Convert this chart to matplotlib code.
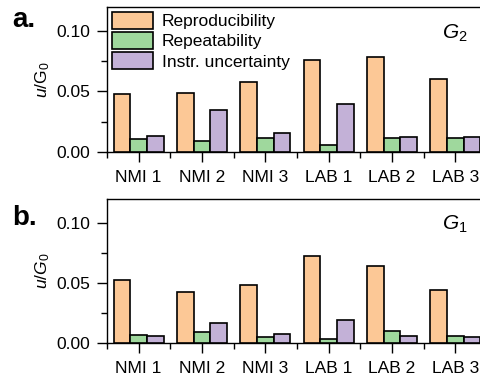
import matplotlib
matplotlib.use("Agg")
import matplotlib.pyplot as plt
import numpy as np
from matplotlib.ticker import MultipleLocator, FixedLocator

plt.rcParams['font.family'] = ['Liberation Sans', 'DejaVu Sans']
plt.rcParams['mathtext.fontset'] = 'custom'
plt.rcParams['mathtext.rm'] = 'Liberation Sans'
plt.rcParams['mathtext.it'] = 'Liberation Sans:italic'

categories = ["NMI 1", "NMI 2", "NMI 3", "LAB 1", "LAB 2", "LAB 3"]
series_names = ["Reproducibility", "Repeatability", "Instr. uncertainty"]

g2_repro = [0.0478, 0.0487, 0.0575, 0.0758, 0.0787, 0.0603]
g2_repeat = [0.0108, 0.0087, 0.0117, 0.0058, 0.0112, 0.0112]
g2_instr = [0.0128, 0.0347, 0.0153, 0.0397, 0.0125, 0.0125]

g1_repro = [0.0528, 0.0430, 0.0486, 0.0730, 0.0642, 0.0447]
g1_repeat = [0.0069, 0.0094, 0.0056, 0.0036, 0.0100, 0.0064]
g1_instr = [0.0060, 0.0172, 0.0075, 0.0194, 0.0061, 0.0053]

colors = ['#FCC896', '#9FD89D', '#C3B1D7']

W, H = 481, 381
fig = plt.figure(figsize=(W/100, H/100), dpi=100)

def axrect(l, t, r, b):
    return [l/W, 1-b/H, (r-l)/W, (b-t)/H]

ax_a = fig.add_axes(axrect(107, 7, 487, 151.7))
ax_b = fig.add_axes(axrect(107, 199, 487, 343.3))

bw = 0.263
x = np.arange(len(categories))

def draw(ax, data, with_legend):
    for i, (vals, c, name) in enumerate(zip(data, colors, series_names)):
        ax.bar(x + (i-1)*bw, vals, width=bw, color=c, edgecolor='black',
               linewidth=1.2, label=name, zorder=3)
    ax.set_xlim(-0.5, len(categories)-0.5)
    ax.set_ylim(0, 0.12)
    ax.set_xticks(x)
    ax.set_xticklabels(categories, fontsize=12.5)
    ax.xaxis.set_minor_locator(FixedLocator(np.arange(-0.5, len(categories), 1.0)))
    ax.set_yticks([0, 0.05, 0.10])
    ax.set_yticklabels(['0.00', '0.05', '0.10'], fontsize=12.5)
    ax.yaxis.set_minor_locator(MultipleLocator(0.025))
    ax.tick_params(which='major', direction='out', length=7, width=1.0)
    ax.tick_params(which='minor', direction='out', length=4, width=1.0)
    ax.tick_params(axis='x', which='major', pad=6)
    ax.tick_params(axis='y', which='major', pad=5)
    for s in ax.spines.values():
        s.set_linewidth(1.0)
    if with_legend:
        ax.legend(loc='upper left', bbox_to_anchor=(4.7/380, 1-4.7/144.7),
                  frameon=False, fontsize=12.5, borderpad=0, borderaxespad=0,
                  handlelength=2.4, handleheight=1.15, labelspacing=0.16,
                  handletextpad=0.5)

draw(ax_a, [g2_repro, g2_repeat, g2_instr], True)
draw(ax_b, [g1_repro, g1_repeat, g1_instr], False)

fig.text(12/W, 1-27/H, 'a.', fontsize=20, fontweight='bold', ha='left', va='baseline')
fig.text(12/W, 1-225/H, 'b.', fontsize=20, fontweight='bold', ha='left', va='baseline')
fig.text(441.7/W, 1-38.3/H, r'$G_2$', fontsize=15, ha='left', va='baseline')
fig.text(441.7/W, 1-230/H, r'$G_1$', fontsize=15, ha='left', va='baseline')
fig.text(43/W, 1-79.5/H, r'$u$/G$_0$', fontsize=12.5, rotation=90, ha='center', va='center')
fig.text(43/W, 1-271/H, r'$u/G_0$', fontsize=12.5, rotation=90, ha='center', va='center')

fig.savefig('out.png', dpi=100)
